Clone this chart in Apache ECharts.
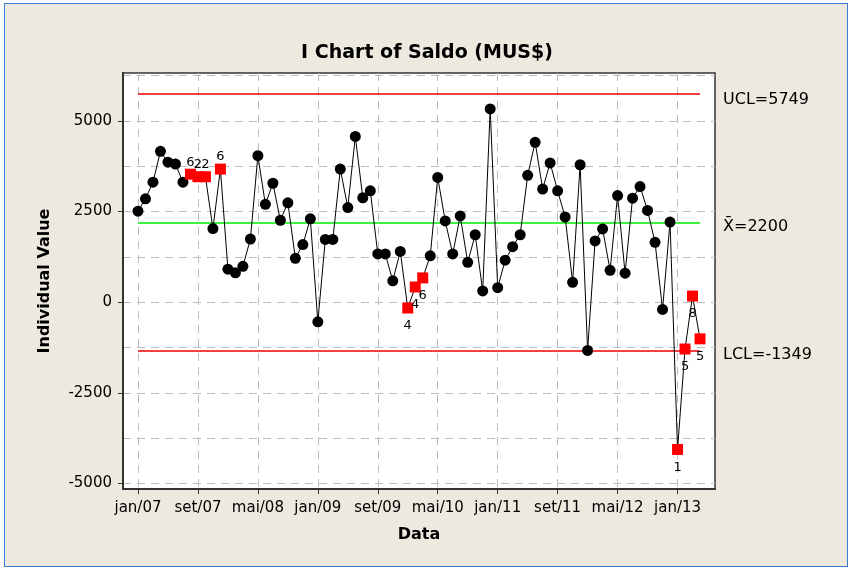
<!DOCTYPE html>
<html>
<head>
    <meta charset="utf-8">
    <title>I Chart of Saldo</title>
    <script type="text/javascript" src="https://cdn.jsdelivr.net/npm/echarts@6/dist/echarts.min.js"></script>
    <style>
        body { margin: 0; background: #ffffff; }
        #frame { position: absolute; left: 4px; top: 3px; width: 842px; height: 562px;
                 background: #EDE9DF; border: 1.5px solid #3A7BD5; }
        #main { position: absolute; left: 0; top: 0; width: 854px; height: 572px; }
    </style>
</head>
<body>
    <div id="frame"></div>
    <div id="main"></div>
    <script type="text/javascript">
    // monthly balance, jan/07 .. abr/13 (index 0 = jan/07)
    var saldo = [
        2510, 2850, 3310, 4160, 3860, 3810, 3310, 3530, 3460, 3460,
        2030, 3670, 910, 810, 990, 1740, 4040, 2700, 3280, 2260,
        2740, 1210, 1590, 2300, -540, 1730, 1730, 3670, 2610, 4570,
        2880, 3070, 1330, 1330, 590, 1400, -160, 420, 670, 1280,
        3440, 2240, 1330, 2380, 1100, 1860, 310, 5330, 400, 1160,
        1530, 1860, 3500, 4410, 3120, 3840, 3070, 2350, 550, 3790,
        -1330, 1690, 2020, 880, 2940, 800, 2870, 3190, 2530, 1650,
        -200, 2210, -4060, -1290, 170, -1010
    ];
    // failed test number per point
    var testFlags = {7: '6', 8: '2', 9: '2', 11: '6', 36: '4', 37: '4', 38: '6',
                     72: '1', 73: '5', 74: '8', 75: '5'};
    var labelAbove = [7, 8, 9, 11];

    var tickPos = [0, 8, 16, 24, 32, 40, 48, 56, 64, 72];
    var tickLabels = ['jan/07', 'set/07', 'mai/08', 'jan/09', 'set/09',
                      'mai/10', 'jan/11', 'set/11', 'mai/12', 'jan/13'];
    var yLabelTicks = [-5000, -2500, 0, 2500, 5000];
    var yGridTicks = [-5000, -3750, -2500, -1250, 0, 1250, 2500, 3750, 5000, 6250];

    var UCL = 5749, XBAR = 2200, LCL = -1349;

    var myChart = echarts.init(document.getElementById('main'));
    var font = 'DejaVu Sans';

    var points = saldo.map(function(v, i) {
        var item = { value: [i, v] };
        if (testFlags[i]) {
            var above = labelAbove.indexOf(i) >= 0;
            item.symbol = 'rect';
            item.itemStyle = { color: '#FF0000' };
            item.label = {
                show: true,
                formatter: testFlags[i],
                position: above ? 'top' : 'bottom',
                distance: above ? 0 : 6,
                fontFamily: font,
                fontSize: 13,
                color: '#000'
            };
        }
        return item;
    });

    // text sits a little below its line: empty first line, shift = lineHeight / 2
    function limitLine(val, text, lh, color) {
        var ls = { color: color, width: 1.5, type: 'solid' };
        return [
            { coord: [0, val], lineStyle: ls,
              label: { show: true, position: 'end', distance: 23, formatter: '\n' + text,
                       fontFamily: font, fontSize: 16, lineHeight: lh, color: '#000' } },
            { coord: [saldo.length - 1, val], lineStyle: ls }
        ];
    }

    var gridLine = { show: true, lineStyle: { color: '#BDBDBD', type: [8, 6], width: 1 } };

    var option = {
        animation: false,
        title: {
            text: 'I Chart of Saldo (MUS$)',
            left: 'center',
            top: 39,
            textStyle: { fontFamily: font, fontSize: 19, fontWeight: 'bold', color: '#000' }
        },
        grid: {
            left: 123, right: 139, top: 73, bottom: 83,
            show: true, backgroundColor: '#ffffff', borderColor: '#333', borderWidth: 1.5
        },
        xAxis: {
            type: 'value',
            min: -2,
            max: 77,
            name: 'Data',
            nameLocation: 'middle',
            nameGap: 38,
            nameTextStyle: { fontFamily: font, fontSize: 16, fontWeight: 'bold', color: '#000' },
            axisLine: { show: true, onZero: false, lineStyle: { color: '#333', width: 2 } },
            axisTick: { show: true, length: 5, customValues: tickPos, lineStyle: { color: '#333' } },
            axisLabel: {
                customValues: tickPos,
                margin: 12,
                fontFamily: font, fontSize: 15, color: '#000',
                formatter: function(v) { return tickLabels[tickPos.indexOf(v)]; }
            },
            splitLine: gridLine
        },
        yAxis: [{
            type: 'value',
            min: -5150,
            max: 6320,
            name: 'Individual Value',
            nameLocation: 'middle',
            nameGap: 70,
            nameTextStyle: { fontFamily: font, fontSize: 16, fontWeight: 'bold', color: '#000' },
            axisLine: { show: true, onZero: false, lineStyle: { color: '#333', width: 2 } },
            axisTick: { show: true, length: 5, customValues: yLabelTicks, lineStyle: { color: '#333' } },
            axisLabel: {
                customValues: yLabelTicks,
                margin: 11,
                fontFamily: font, fontSize: 15, color: '#000',
                formatter: function(v) { return String(v); }
            },
            splitLine: { show: false }
        }, {
            // only for the dashed grid every 1250
            type: 'value',
            min: -5150,
            max: 6320,
            position: 'left',
            axisLine: { show: false },
            axisTick: { show: false, customValues: yGridTicks },
            axisLabel: { show: false },
            splitLine: gridLine
        }],
        series: [{
            type: 'line',
            data: points,
            clip: false,
            symbol: 'circle',
            symbolSize: 11,
            itemStyle: { color: '#000' },
            lineStyle: { color: '#000', width: 1 },
            z: 5,
            markLine: {
                silent: true,
                symbol: 'none',
                animation: false,
                data: [
                    limitLine(UCL, 'UCL=' + UCL, 13, '#F00000'),
                    limitLine(XBAR, 'X\u0304=' + XBAR, 8, '#00EE00'),
                    limitLine(LCL, 'LCL=' + LCL, 8, '#F00000')
                ]
            }
        }]
    };

    myChart.setOption(option);
    </script>
</body>
</html>
